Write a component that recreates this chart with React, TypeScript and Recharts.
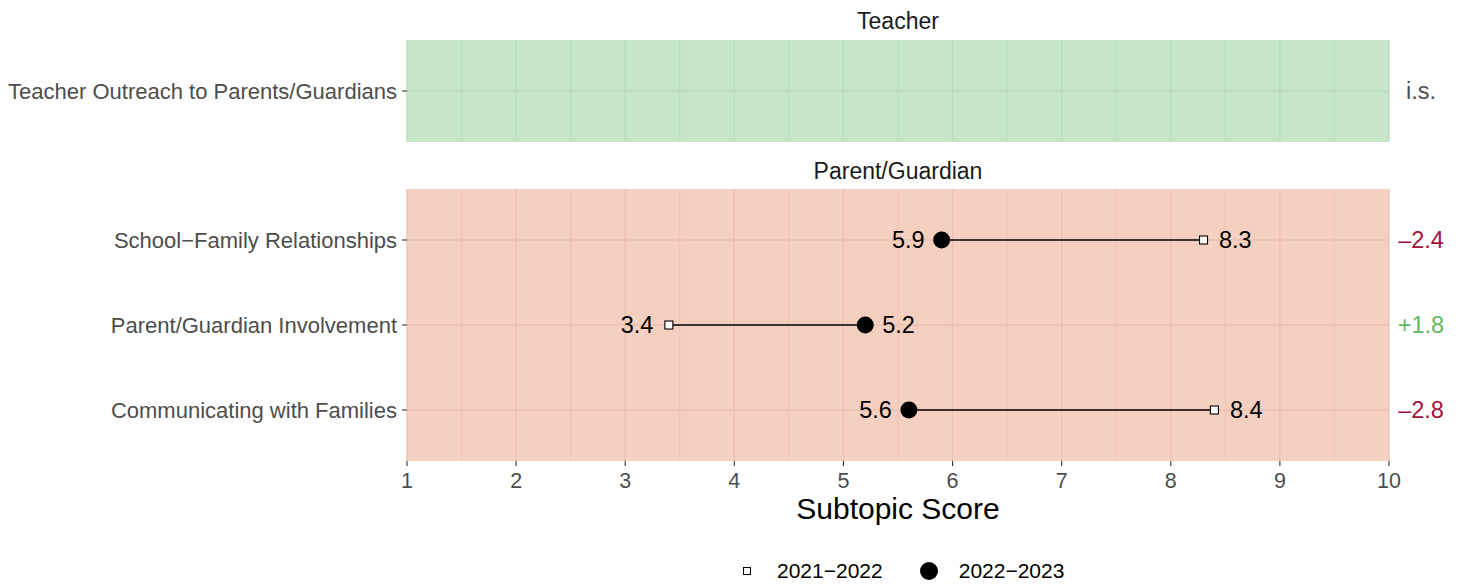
import React from "react";
import { ScatterChart, Scatter, XAxis, YAxis, CartesianGrid, Legend } from "recharts";

// one entry per subtopic row, top to bottom
const subtopics = [
  "Teacher Outreach to Parents/Guardians",
  "School−Family Relationships",
  "Parent/Guardian Involvement",
  "Communicating with Families",
];
const groups = ["Teacher", "Parent/Guardian", "Parent/Guardian", "Parent/Guardian"];
const score2021 = [null, 8.3, 3.4, 8.4];
const score2022 = [null, 5.9, 5.2, 5.6];
const changes = ["i.s.", "–2.4", "+1.8", "–2.8"];

const xTicks = [1, 2, 3, 4, 5, 6, 7, 8, 9, 10];
const xMinor = [1.5, 2.5, 3.5, 4.5, 5.5, 6.5, 7.5, 8.5, 9.5];

const FONT = '"Liberation Sans", Arial, Helvetica, sans-serif';
const PANEL_FILL: Record<string, { bg: string; grid: string }> = {
  Teacher: { bg: "#C6E5C9", grid: "#B8DBBC" },
  "Parent/Guardian": { bg: "#F5CFBF", grid: "#EAC2B2" },
};
const RED = "#A1123B";
const GREEN = "#61B862";

type Pt = { x: number; y: number; other: number };

function valueLabel(cx: number, cy: number, p: Pt, gap: number) {
  const left = p.x < p.other;
  return (
    <text
      x={left ? cx - gap : cx + gap}
      y={cy}
      textAnchor={left ? "end" : "start"}
      dominantBaseline="central"
      fontSize={23.5}
      fontFamily={FONT}
      fill="#000"
    >
      {p.x.toFixed(1)}
    </text>
  );
}

const SquareDot = (props: any) => {
  const { cx, cy, payload } = props;
  return (
    <g>
      <rect x={cx - 4} y={cy - 4} width={8} height={8} fill="#fff" stroke="#000" strokeWidth={1.1} />
      {valueLabel(cx, cy, payload, 15.5)}
    </g>
  );
};

const CircleDot = (props: any) => {
  const { cx, cy, payload } = props;
  return (
    <g>
      <circle cx={cx} cy={cy} r={8.5} fill="#000" />
      {valueLabel(cx, cy, payload, 17)}
    </g>
  );
};

const NoDot = () => <g />;

function LegendBox() {
  return (
    <div
      style={{
        height: 26,
        display: "flex",
        alignItems: "center",
        paddingLeft: 736,
        fontFamily: FONT,
        fontSize: 21,
        color: "#000",
      }}
    >
      <span style={{ width: 6, height: 6, border: "1px solid #000", background: "#fff", display: "inline-block" }} />
      <span style={{ marginLeft: 26 }}>2021−2022</span>
      <span
        style={{ width: 18, height: 18, borderRadius: 9, background: "#000", display: "inline-block", marginLeft: 37 }}
      />
      <span style={{ marginLeft: 21 }}>2022−2023</span>
    </div>
  );
}

function Panel({
  group,
  height,
  margin,
  showAxis,
}: {
  group: string;
  height: number;
  margin: { top: number; right: number; bottom: number; left: number };
  showAxis: boolean;
}) {
  const rows = subtopics
    .map((name, i) => ({ name, i }))
    .filter((r) => groups[r.i] === group)
    .map((r, k) => ({ ...r, pos: k + 1 }));
  const yTicks = rows.map((r) => r.pos);
  const domain = [0.4, rows.length + 0.6];
  const colors = PANEL_FILL[group];

  const withData = rows.filter((r) => score2021[r.i] != null && score2022[r.i] != null);
  const old = withData.map((r) => ({ x: score2021[r.i] as number, y: r.pos, other: score2022[r.i] as number }));
  const cur = withData.map((r) => ({ x: score2022[r.i] as number, y: r.pos, other: score2021[r.i] as number }));

  const LeftTick = (p: any) => (
    <text x={p.x} y={p.y} textAnchor="end" dominantBaseline="central" fontSize={22} fontFamily={FONT} fill="#4D4D4D">
      {rows[p.payload.value - 1]?.name}
    </text>
  );
  const RightTick = (p: any) => {
    const txt = changes[rows[p.payload.value - 1]?.i] ?? "";
    const fill = txt.startsWith("+") ? GREEN : txt.startsWith("–") ? RED : "#4D4D4D";
    return (
      <text x={p.x} y={p.y} textAnchor="middle" dominantBaseline="central" fontSize={23.5} fontFamily={FONT} fill={fill}>
        {txt}
      </text>
    );
  };

  return (
    <ScatterChart width={1462} height={height} margin={margin}>
      <CartesianGrid
        yAxisId="l"
        fill={colors.bg}
        fillOpacity={1}
        stroke={colors.grid}
        strokeWidth={0.8}
        horizontal={false}
        verticalValues={xMinor}
      />
      <CartesianGrid
        yAxisId="l"
        stroke={colors.grid}
        strokeWidth={1.3}
        verticalValues={xTicks}
        horizontalValues={yTicks}
      />
      <XAxis
        type="number"
        dataKey="x"
        domain={[1, 10]}
        ticks={xTicks}
        allowDataOverflow
        hide={!showAxis}
        height={97}
        axisLine={false}
        tickLine={{ stroke: "#333333", strokeWidth: 1.1 }}
        tickSize={5}
        tickMargin={7}
        tick={{ fontSize: 21.5, fill: "#4D4D4D", fontFamily: FONT }}
        label={{
          value: "Subtopic Score",
          position: "insideTop",
          offset: 37,
          fontSize: 30,
          fill: "#000",
          fontFamily: FONT,
        }}
      />
      <YAxis
        yAxisId="l"
        type="number"
        dataKey="y"
        domain={domain}
        ticks={yTicks}
        reversed
        allowDataOverflow
        width={400}
        axisLine={false}
        tickLine={{ stroke: "#333333", strokeWidth: 1.1 }}
        tickSize={5}
        tickMargin={5}
        tick={LeftTick}
      />
      <YAxis
        yAxisId="r"
        orientation="right"
        type="number"
        domain={domain}
        ticks={yTicks}
        reversed
        allowDataOverflow
        width={73}
        axisLine={false}
        tickLine={false}
        tickSize={0}
        tickMargin={32}
        tick={RightTick}
      />
      {withData.map((r) => (
        <Scatter
          key={r.name}
          yAxisId="l"
          data={[
            { x: score2021[r.i], y: r.pos },
            { x: score2022[r.i], y: r.pos },
          ]}
          line={{ stroke: "#000", strokeWidth: 1.5 }}
          shape={NoDot}
          legendType="none"
          isAnimationActive={false}
        />
      ))}
      <Scatter yAxisId="l" name="2021−2022" data={old} shape={SquareDot} isAnimationActive={false} />
      <Scatter yAxisId="l" name="2022−2023" data={cur} shape={CircleDot} isAnimationActive={false} />
      {showAxis && <Legend verticalAlign="bottom" content={LegendBox} />}
    </ScatterChart>
  );
}

const stripStyle: React.CSSProperties = {
  position: "absolute",
  left: 407,
  width: 982,
  textAlign: "center",
  fontFamily: FONT,
  fontSize: 23,
  lineHeight: "23px",
  color: "#1A1A1A",
};

export default function App() {
  return (
    <div style={{ position: "absolute", left: 0, top: 0, width: 1462, height: 584, background: "#fff" }}>
      <div style={{ ...stripStyle, top: 10 }}>Teacher</div>
      <div style={{ ...stripStyle, top: 160 }}>Parent/Guardian</div>
      <div style={{ position: "absolute", left: 0, top: 0 }}>
        <Panel group="Teacher" height={150} margin={{ top: 40, right: 0, bottom: 8, left: 7 }} showAxis={false} />
      </div>
      <div style={{ position: "absolute", left: 0, top: 150 }}>
        <Panel group="Parent/Guardian" height={434} margin={{ top: 39, right: 0, bottom: 0, left: 7 }} showAxis />
      </div>
    </div>
  );
}
